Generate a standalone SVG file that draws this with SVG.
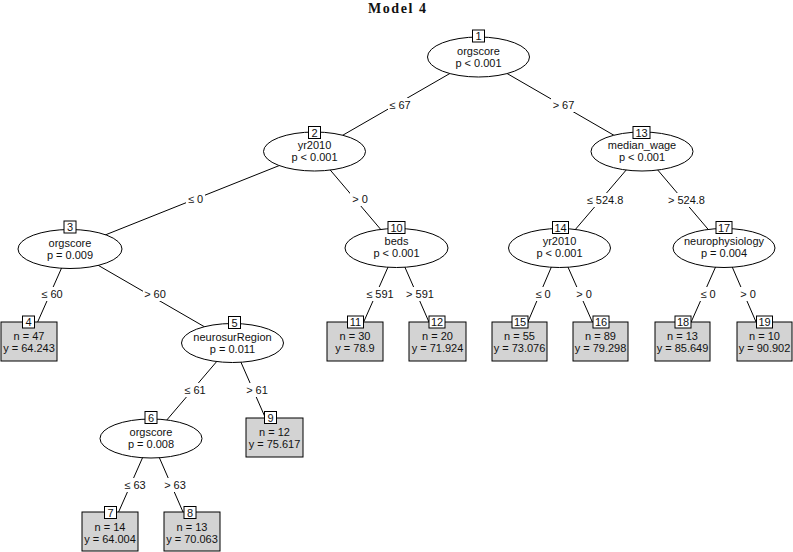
<svg xmlns="http://www.w3.org/2000/svg" width="793" height="552" viewBox="0 0 793 552">
<style>
text{font-family:"Liberation Sans",Arial,sans-serif;font-size:11px;fill:#111;text-anchor:middle}
.title{font-family:"Liberation Serif","Times New Roman",serif;font-size:14px;font-weight:bold}
.edge{stroke:#000;stroke-width:1;fill:none}
.ell{fill:#fff;stroke:#000;stroke-width:1}
.leaf{fill:#d3d3d3;stroke:#000;stroke-width:1}
.num{fill:#fff;stroke:#000;stroke-width:1}
.lbg{fill:#fff;stroke:none}
</style>
<rect width="793" height="552" fill="#fff"/>
<text class="title" x="397" y="13" textLength="58" lengthAdjust="spacing">Model 4</text>
<g id="connectors">
<line class="edge" x1="478.5" y1="57" x2="314.5" y2="151.5"/>
<line class="edge" x1="478.5" y1="57" x2="642" y2="151.5"/>
<line class="edge" x1="314.5" y1="151.5" x2="70" y2="249"/>
<line class="edge" x1="314.5" y1="151.5" x2="396.5" y2="248"/>
<line class="edge" x1="70" y1="249" x2="29" y2="341.5"/>
<line class="edge" x1="70" y1="249" x2="232.5" y2="343"/>
<line class="edge" x1="232.5" y1="343" x2="151" y2="438.5"/>
<line class="edge" x1="232.5" y1="343" x2="274" y2="437.5"/>
<line class="edge" x1="151" y1="438.5" x2="110" y2="531.5"/>
<line class="edge" x1="151" y1="438.5" x2="191.5" y2="531.5"/>
<line class="edge" x1="396.5" y1="248" x2="355" y2="341.5"/>
<line class="edge" x1="396.5" y1="248" x2="437.5" y2="341.5"/>
<line class="edge" x1="642" y1="151.5" x2="559.5" y2="248"/>
<line class="edge" x1="642" y1="151.5" x2="724" y2="248"/>
<line class="edge" x1="559.5" y1="248" x2="519.5" y2="341.5"/>
<line class="edge" x1="559.5" y1="248" x2="601" y2="341.5"/>
<line class="edge" x1="724" y1="248" x2="682.5" y2="341.5"/>
<line class="edge" x1="724" y1="248" x2="764.5" y2="341.5"/>
<g id="edge-labels">
<rect class="lbg" x="388" y="98" width="24" height="14"/><text x="400" y="109">≤ 67</text>
<rect class="lbg" x="551" y="98" width="25" height="14"/><text x="563.5" y="109">&gt; 67</text>
<rect class="lbg" x="186" y="192" width="19" height="14"/><text x="195.5" y="203">≤ 0</text>
<rect class="lbg" x="350" y="192" width="20" height="14"/><text x="360" y="203">&gt; 0</text>
<rect class="lbg" x="40" y="287" width="24" height="14"/><text x="52" y="298">≤ 60</text>
<rect class="lbg" x="143" y="287" width="25" height="14"/><text x="155" y="298">&gt; 60</text>
<rect class="lbg" x="183" y="383" width="24" height="14"/><text x="195" y="394">≤ 61</text>
<rect class="lbg" x="245" y="383" width="25" height="14"/><text x="257" y="394">&gt; 61</text>
<rect class="lbg" x="123" y="478" width="24" height="14"/><text x="135" y="489">≤ 63</text>
<rect class="lbg" x="163" y="478" width="25" height="14"/><text x="175" y="489">&gt; 63</text>
<rect class="lbg" x="365" y="287" width="30" height="14"/><text x="380" y="298">≤ 591</text>
<rect class="lbg" x="405" y="287" width="31" height="14"/><text x="420" y="298">&gt; 591</text>
<rect class="lbg" x="586" y="193" width="38" height="14"/><text x="605" y="204">≤ 524.8</text>
<rect class="lbg" x="667" y="193" width="39" height="14"/><text x="686.5" y="204">&gt; 524.8</text>
<rect class="lbg" x="533" y="287" width="20" height="14"/><text x="543" y="298">≤ 0</text>
<rect class="lbg" x="574" y="287" width="20" height="14"/><text x="584" y="298">&gt; 0</text>
<rect class="lbg" x="698" y="287" width="20" height="14"/><text x="708" y="298">≤ 0</text>
<rect class="lbg" x="738" y="287" width="20" height="14"/><text x="748" y="298">&gt; 0</text>
</g>
</g>
<g id="node1"><ellipse class="ell" cx="478.5" cy="57" rx="51" ry="20"/><rect class="num" x="472.5" y="30" width="12" height="12"/><text x="478.5" y="40">1</text><text x="478.5" y="55">orgscore</text><text x="478.5" y="67">p &lt; 0.001</text></g>
<g id="node2"><ellipse class="ell" cx="314.5" cy="151.5" rx="51" ry="19.5"/><rect class="num" x="308.5" y="126.5" width="12" height="12"/><text x="314.5" y="136.5">2</text><text x="314.5" y="149">yr2010</text><text x="314.5" y="161">p &lt; 0.001</text></g>
<g id="node3"><ellipse class="ell" cx="70" cy="249" rx="52" ry="19.5"/><rect class="num" x="64" y="221" width="12" height="12"/><text x="70" y="231">3</text><text x="70" y="246.5">orgscore</text><text x="70" y="258.5">p = 0.009</text></g>
<g id="node4"><rect class="leaf" x="1" y="322" width="56" height="39"/><rect class="num" x="22.5" y="316" width="12" height="12"/><text x="28.5" y="326">4</text><text x="29" y="340">n = 47</text><text x="29" y="352">y = 64.243</text></g>
<g id="node5"><ellipse class="ell" cx="232.5" cy="343" rx="51" ry="19.5"/><rect class="num" x="228.5" y="316.5" width="12" height="12"/><text x="234.5" y="326.5">5</text><text x="232.5" y="340.5">neurosurRegion</text><text x="232.5" y="352.5">p = 0.011</text></g>
<g id="node6"><ellipse class="ell" cx="151" cy="438.5" rx="51" ry="19.5"/><rect class="num" x="145" y="411.5" width="12" height="12"/><text x="151" y="421.5">6</text><text x="151" y="436">orgscore</text><text x="151" y="448">p = 0.008</text></g>
<g id="node7"><rect class="leaf" x="82" y="512" width="56" height="39"/><rect class="num" x="104.5" y="506.5" width="12" height="12"/><text x="110.5" y="516.5">7</text><text x="110" y="531">n = 14</text><text x="110" y="543">y = 64.004</text></g>
<g id="node8"><rect class="leaf" x="164" y="512" width="56" height="39"/><rect class="num" x="184" y="506.5" width="12" height="12"/><text x="190" y="516.5">8</text><text x="192" y="531">n = 13</text><text x="192" y="543">y = 70.063</text></g>
<g id="node9"><rect class="leaf" x="246" y="418" width="57" height="39"/><rect class="num" x="264.5" y="411.5" width="12" height="12"/><text x="270.5" y="421.5">9</text><text x="274.5" y="436">n = 12</text><text x="274.5" y="448">y = 75.617</text></g>
<g id="node10"><ellipse class="ell" cx="396.5" cy="248" rx="51.5" ry="19.5"/><rect class="num" x="388" y="221.5" width="17" height="12"/><text x="396.5" y="231.5">10</text><text x="396.5" y="245">beds</text><text x="396.5" y="257">p &lt; 0.001</text></g>
<g id="node11"><rect class="leaf" x="327" y="322" width="56" height="39"/><rect class="num" x="347.5" y="316" width="16" height="12"/><text x="355.5" y="326">11</text><text x="355" y="340">n = 30</text><text x="355" y="352">y = 78.9</text></g>
<g id="node12"><rect class="leaf" x="409" y="322" width="57" height="39"/><rect class="num" x="429" y="316" width="16" height="12"/><text x="437" y="326">12</text><text x="437.5" y="340">n = 20</text><text x="437.5" y="352">y = 71.924</text></g>
<g id="node13"><ellipse class="ell" cx="642" cy="151.5" rx="51" ry="19.5"/><rect class="num" x="633" y="126.5" width="17" height="12"/><text x="641.5" y="136.5">13</text><text x="642" y="149">median_wage</text><text x="642" y="161">p &lt; 0.001</text></g>
<g id="node14"><ellipse class="ell" cx="559.5" cy="248" rx="51" ry="19.5"/><rect class="num" x="552.5" y="221.5" width="16" height="12"/><text x="560.5" y="231.5">14</text><text x="559.5" y="245">yr2010</text><text x="559.5" y="257">p &lt; 0.001</text></g>
<g id="node15"><rect class="leaf" x="492" y="322" width="55" height="39"/><rect class="num" x="512" y="316" width="16" height="12"/><text x="520" y="326">15</text><text x="519.5" y="340">n = 55</text><text x="519.5" y="352">y = 73.076</text></g>
<g id="node16"><rect class="leaf" x="573" y="322" width="55" height="39"/><rect class="num" x="593" y="316" width="16" height="12"/><text x="601" y="326">16</text><text x="600.5" y="340">n = 89</text><text x="600.5" y="352">y = 79.298</text></g>
<g id="node17"><ellipse class="ell" cx="724" cy="248" rx="51" ry="19.5"/><rect class="num" x="716" y="221.5" width="16" height="12"/><text x="724" y="231.5">17</text><text x="724" y="245">neurophysiology</text><text x="724" y="257">p = 0.004</text></g>
<g id="node18"><rect class="leaf" x="655" y="322" width="55" height="39"/><rect class="num" x="675" y="316" width="16" height="12"/><text x="683" y="326">18</text><text x="682.5" y="340">n = 13</text><text x="682.5" y="352">y = 85.649</text></g>
<g id="node19"><rect class="leaf" x="737" y="322" width="55" height="39"/><rect class="num" x="756.5" y="316" width="16" height="12"/><text x="764.5" y="326">19</text><text x="764.5" y="340">n = 10</text><text x="764.5" y="352">y = 90.902</text></g>
</svg>
